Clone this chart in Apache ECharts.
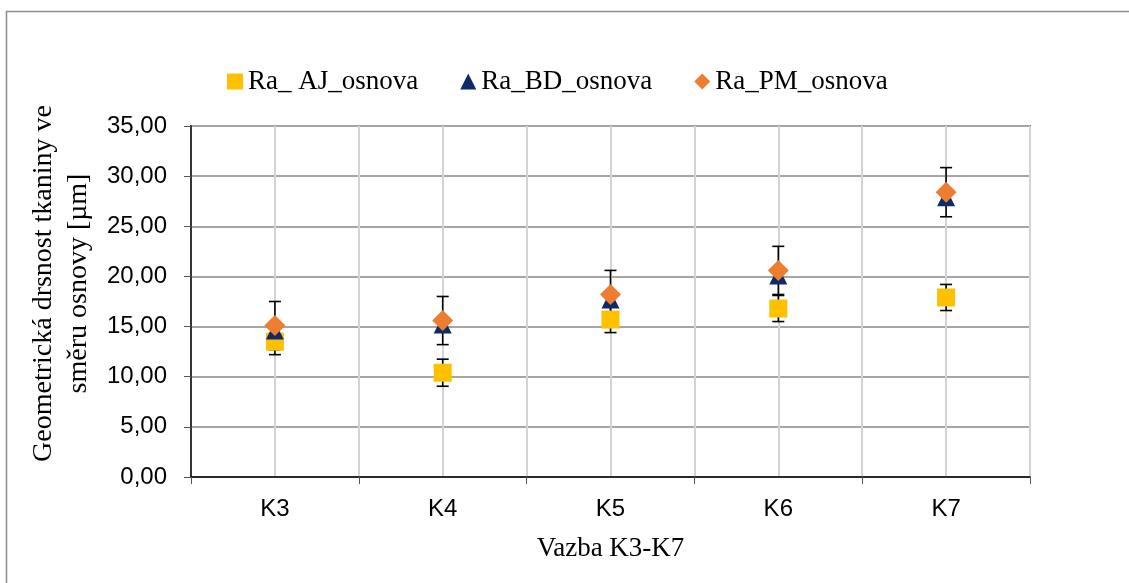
<!DOCTYPE html>
<html>
<head>
<meta charset="utf-8">
<script src="https://cdn.jsdelivr.net/npm/echarts@6/dist/echarts.min.js"></script>
<style>html,body{margin:0;padding:0;background:#fff}#c{width:1129px;height:583px}</style>
</head>
<body>
<div id="c"></div>
<script>
const categories = ['K3', 'K4', 'K5', 'K6', 'K7'];
const seriesNames = ['Ra_ AJ_osnova', 'Ra_BD_osnova', 'Ra_PM_osnova'];
const ajValues = [13.5, 10.4, 15.7, 16.8, 17.9];
const bdValues = [14.6, 15.2, 17.7, 20.1, 27.9];
const pmValues = [15.1, 15.6, 18.2, 20.6, 28.4];
const ajErrors = [1.3, 1.35, 1.3, 1.3, 1.3];
const pmErrors = [2.4, 2.4, 2.4, 2.4, 2.45];
const yTicks = [0, 5, 10, 15, 20, 25, 30, 35];

const chart = echarts.init(document.getElementById('c'));

function errorData(vals, errs) {
  return vals.map((v, i) => [i, v - errs[i], v + errs[i]]);
}
function errorRender(params, api) {
  const i = api.value(0);
  const lo = api.coord([i, api.value(1)]);
  const hi = api.coord([i, api.value(2)]);
  const w = 6;
  const st = { stroke: '#000', lineWidth: 1.6 };
  return {
    type: 'group',
    children: [
      { type: 'line', shape: { x1: lo[0], y1: lo[1], x2: hi[0], y2: hi[1] }, style: st },
      { type: 'line', shape: { x1: lo[0] - w, y1: lo[1], x2: lo[0] + w, y2: lo[1] }, style: st },
      { type: 'line', shape: { x1: hi[0] - w, y1: hi[1], x2: hi[0] + w, y2: hi[1] }, style: st }
    ]
  };
}

const serif = '"Liberation Serif", "Times New Roman", serif';
const sans = '"Liberation Sans", Arial, sans-serif';

chart.setOption({
  animation: false,
  backgroundColor: '#fff',
  graphic: [{
    type: 'rect', left: 4, top: 9, z: -10,
    shape: { width: 1140, height: 600 },
    style: { fill: 'none', stroke: '#8c8c8c', lineWidth: 1.5 }
  }],
  legend: {
    top: 63, left: 222,
    itemGap: 42, itemWidth: 16, itemHeight: 16,
    textStyle: { fontFamily: serif, fontSize: 27, color: '#000' },
    data: [
      { name: seriesNames[0], icon: 'rect' },
      { name: seriesNames[1], icon: 'triangle' },
      { name: seriesNames[2], icon: 'diamond' }
    ]
  },
  grid: { left: 191, right: 99, top: 126, bottom: 106, show: true, borderColor: '#000', borderWidth: 1.5, backgroundColor: 'transparent', outerBoundsMode: 'none', containLabel: false },
  xAxis: {
    type: 'category', data: categories, boundaryGap: true,
    name: 'Vazba K3-K7', nameLocation: 'middle', nameGap: 58,
    nameTextStyle: { fontFamily: serif, fontSize: 27, color: '#000' },
    axisLine: { lineStyle: { color: '#000', width: 1.5 } },
    axisTick: { show: true, length: 7, lineStyle: { color: '#555' } },
    axisLabel: { fontFamily: sans, fontSize: 24, color: '#000', margin: 20 },
    splitLine: { show: true, lineStyle: { color: '#d3d3d3', width: 2 } }
  },
  yAxis: {
    type: 'value', min: yTicks[0], max: yTicks[yTicks.length - 1], interval: 5,
    name: 'Geometrická drsnost tkaniny ve\nsměru osnovy [µm]',
    nameLocation: 'middle', nameRotate: 90, nameGap: 62,
    nameTextStyle: { fontFamily: serif, fontSize: 28, color: '#000', lineHeight: 35, padding: [0, 0, 0, 36] },
    nameTruncate: { maxWidth: 1000 },
    axisLine: { show: true, lineStyle: { color: '#000', width: 1.5 } },
    axisTick: { show: true, inside: false, length: 7, lineStyle: { color: '#555' } },
    axisLabel: { fontFamily: sans, fontSize: 24, color: '#000', margin: 24,
      formatter: v => v.toFixed(2).replace('.', ',') },
    splitLine: { show: true, lineStyle: { color: '#a6a6a6', width: 2 } }
  },
  series: [
    {
      type: 'line', data: [], silent: true, z: 0,
      markLine: {
        silent: true, symbol: 'none', label: { show: false }, z: 0,
        lineStyle: { color: '#d3d3d3', width: 2, type: 'solid' },
        data: categories.map(c => ({ xAxis: c }))
      }
    },
    { name: 'errAJ', type: 'custom', renderItem: errorRender, data: errorData(ajValues, ajErrors), z: 6, silent: true },
    { name: 'errPM', type: 'custom', renderItem: errorRender, data: errorData(pmValues, pmErrors), z: 6, silent: true },
    { name: seriesNames[0], type: 'scatter', data: ajValues, symbol: 'rect', symbolSize: 18, itemStyle: { color: '#FFC000', opacity: 1 }, z: 7 },
    { name: seriesNames[1], type: 'scatter', data: bdValues, symbol: 'triangle', symbolSize: 18, itemStyle: { color: '#0E2A6B', opacity: 1 }, z: 8 },
    { name: seriesNames[2], type: 'scatter', data: pmValues, symbol: 'diamond', symbolSize: 21, itemStyle: { color: '#ED7D31', opacity: 1 }, z: 9 }
  ]
});
</script>
</body>
</html>
